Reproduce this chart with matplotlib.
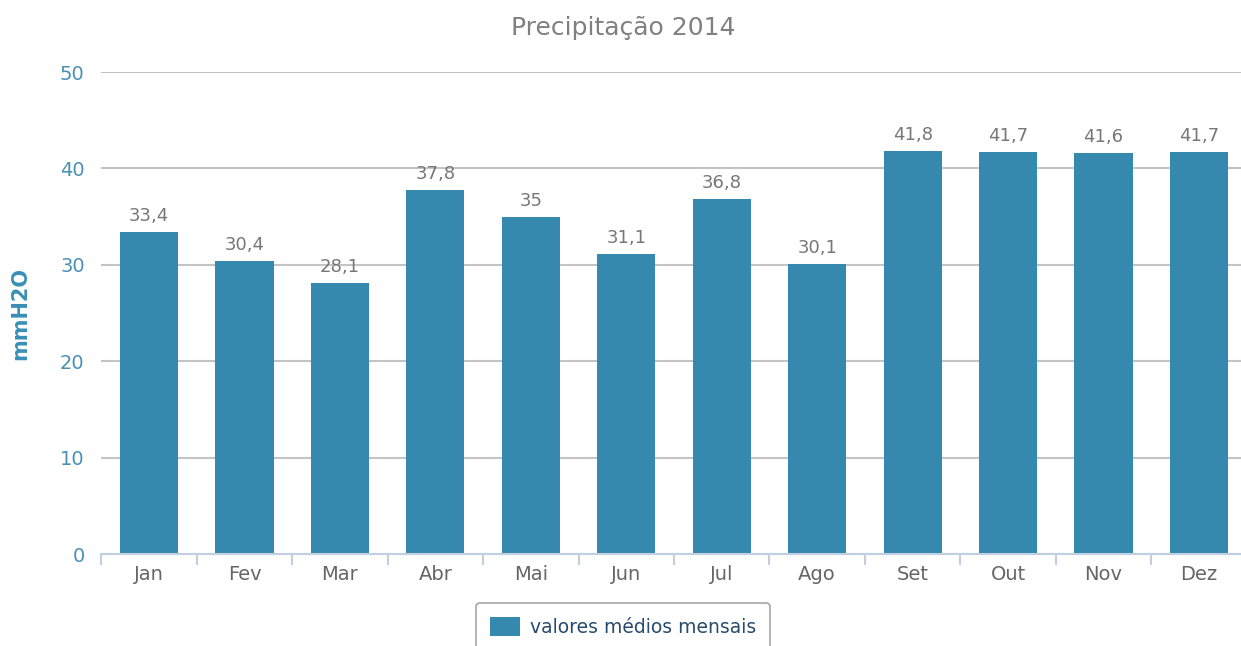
import matplotlib.pyplot as plt
import numpy as np

meses = ['Jan', 'Fev', 'Mar', 'Abr', 'Mai', 'Jun', 'Jul', 'Ago', 'Set', 'Out', 'Nov', 'Dez']
valores = [33.4, 30.4, 28.1, 37.8, 35, 31.1, 36.8, 30.1, 41.8, 41.7, 41.6, 41.7]
y_ticks = [0, 10, 20, 30, 40, 50]

bar_color = '#3588ae'
W, H = 1241, 646

plt.rcParams['font.family'] = ['DejaVu Sans']
fig = plt.figure(figsize=(W / 100, H / 100), dpi=100)
ax = fig.add_axes([101.3 / W, (H - 554) / H, 1145.4 / W, 482 / H])

x = np.arange(len(meses))
ax.bar(x, valores, width=0.61, color=bar_color, zorder=3,
       label='valores médios mensais')

# rótulos de valor com vírgula decimal
for xi, v in zip(x, valores):
    txt = f'{v:g}'.replace('.', ',')
    ax.annotate(txt, (xi, v), xytext=(0, 5), textcoords='offset points',
                ha='center', va='bottom', fontsize=13, color='#777777')

ax.set_xlim(-0.5, len(meses) - 0.5)
ax.set_ylim(0, 50)
ax.set_yticks(y_ticks)
ax.set_yticklabels([str(t) for t in y_ticks], fontsize=14, color='#4a90b4')
ax.tick_params(axis='y', length=0, pad=12)
ax.set_xticks(x)
ax.set_xticklabels(meses, fontsize=14, color='#666666')
ax.set_xticks(np.arange(-0.5, len(meses)), minor=True)
ax.tick_params(axis='x', which='major', length=0, pad=8)
ax.tick_params(axis='x', which='minor', length=8, width=1.5, color='#c0d0e0', direction='out')

ax.grid(axis='y', color='#c4c4c4', linewidth=1.5, zorder=0)
for s in ['top', 'right', 'left']:
    ax.spines[s].set_visible(False)
ax.spines['bottom'].set_color('#c0d0e0')
ax.spines['bottom'].set_linewidth(1.5)
ax.spines['bottom'].set_zorder(4)

ax.set_ylabel('mmH2O', fontsize=15, fontweight='bold', color='#3a8fb7', va='center')
ax.yaxis.set_label_coords((20 - 101.3) / 1145.4, 0.5)
fig.text(623 / W, 1 - 28 / H, 'Precipitação 2014', ha='center', va='center',
         fontsize=18, color='#808080')

leg = fig.legend(loc='upper center', bbox_to_anchor=(623 / W, 1 - 603 / H), frameon=True,
                 fancybox=True, fontsize=13.5, handlelength=1.6, handleheight=1.2,
                 borderpad=0.75, handletextpad=0.5, borderaxespad=0)
leg.get_frame().set_edgecolor('#909090')
leg.get_frame().set_linewidth(1.2)
for t in leg.get_texts():
    t.set_color('#274b6d')

fig.savefig('out.png', dpi=100)
